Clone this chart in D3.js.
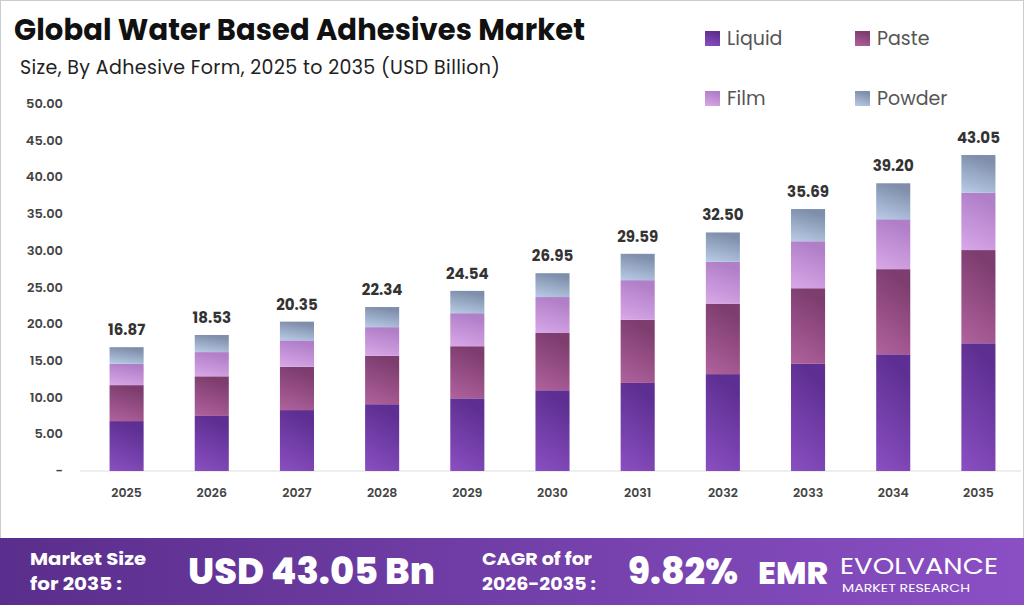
<!DOCTYPE html>
<html><head><meta charset="utf-8">
<script src="https://cdn.jsdelivr.net/npm/d3@7"></script>
<style>body{margin:0;background:#fff;font-family:Poppins,"Open Sans",sans-serif}</style>
</head><body><svg id="c" width="1024" height="605"></svg>
<script>
var years = ["2025","2026","2027","2028","2029","2030","2031","2032","2033","2034","2035"];
var liquid = [6.8,7.5,8.3,9.1,9.9,11.0,12.0,13.2,14.6,15.9,17.4];
var paste  = [4.9,5.4,5.9,6.6,7.1,7.8,8.6,9.6,10.3,11.6,12.7];
var film   = [2.9,3.3,3.6,3.9,4.5,4.9,5.4,5.7,6.4,6.8,7.8];
var totals = [16.87,18.53,20.35,22.34,24.54,26.95,29.59,32.50,35.69,39.20,43.05];
var powder = totals.map(function (t, i) { return +(t - liquid[i] - paste[i] - film[i]).toFixed(2); });
var yTicks = [0,5,10,15,20,25,30,35,40,45,50];
var keys = ["Liquid","Paste","Film","Powder"];
var cols = [["#8a4fc2","#5e2f92"],["#b0629d","#7e3d6f"],["#d9a8e8","#b07fc8"],["#b9cbe6","#7f8fab"]];

var svg = d3.select("#c");
var defs = svg.append("defs");
cols.forEach(function (c, i) {
  var g = defs.append("linearGradient").attr("id","g"+i).attr("x1",0).attr("y1",1).attr("x2",0.3).attr("y2",0);
  g.append("stop").attr("offset","0%").attr("stop-color",c[0]);
  g.append("stop").attr("offset","100%").attr("stop-color",c[1]);
});
var fg = defs.append("linearGradient").attr("id","foot");
fg.append("stop").attr("offset","0%").attr("stop-color","#5a2e8c");
fg.append("stop").attr("offset","100%").attr("stop-color","#8a4fc4");

svg.append("rect").attr("x",0.5).attr("y",0.5).attr("width",1023).attr("height",604)
  .attr("fill","none").attr("stroke","#ccc");

var x = d3.scaleBand().domain(years).range([84,1021]).paddingInner(0.6).paddingOuter(0.3);
var y = d3.scaleLinear().domain([0,50]).range([471,104]);

svg.append("g").selectAll("text").data(yTicks).join("text")
  .attr("x",63).attr("y",function (d) { return y(d) + 4; }).attr("text-anchor","end")
  .attr("font-size",13).attr("font-weight",600).attr("fill","#444")
  .text(function (d) { return d === 0 ? "-" : d.toFixed(2); });
svg.append("line").attr("x1",80).attr("x2",1021).attr("y1",471).attr("y2",471).attr("stroke","#ddd");

var data = years.map(function (yr, i) { return {year: yr, Liquid: liquid[i], Paste: paste[i], Film: film[i], Powder: powder[i]}; });
var stack = d3.stack().keys(keys)(data);
svg.append("g").selectAll("g").data(stack).join("g").attr("fill", function (d, i) { return "url(#g" + i + ")"; })
  .selectAll("rect").data(function (d) { return d; }).join("rect")
  .attr("x", function (d) { return x(d.data.year); }).attr("width", x.bandwidth())
  .attr("y", function (d) { return y(d[1]); }).attr("height", function (d) { return y(d[0]) - y(d[1]); });

svg.append("g").selectAll("text").data(totals).join("text")
  .attr("x", function (d, i) { return x(years[i]) + x.bandwidth() / 2; })
  .attr("y", function (d) { return y(d) - 12; }).attr("text-anchor","middle")
  .attr("font-size",15).attr("font-weight",700).attr("fill","#333")
  .text(function (d) { return d.toFixed(2); });

svg.append("g").selectAll("text").data(years).join("text")
  .attr("x", function (d) { return x(d) + x.bandwidth() / 2; }).attr("y",497).attr("text-anchor","middle")
  .attr("font-size",12.5).attr("font-weight",600).attr("fill","#444").text(function (d) { return d; });

svg.append("text").attr("x",14).attr("y",40).attr("font-size",29).attr("font-weight",700).attr("fill","#111")
  .attr("textLength",571).text("Global Water Based Adhesives Market");
svg.append("text").attr("x",20).attr("y",74).attr("font-size",19).attr("fill","#222")
  .attr("textLength",480).text("Size, By Adhesive Form, 2025 to 2035 (USD Billion)");

var leg = [[705,38],[855,38],[705,98],[855,98]];
keys.forEach(function (k, i) {
  svg.append("rect").attr("x",leg[i][0]).attr("y",leg[i][1]-7).attr("width",15).attr("height",15).attr("fill","url(#g"+i+")");
  svg.append("text").attr("x",leg[i][0]+22).attr("y",leg[i][1]+7).attr("font-size",19).attr("fill","#555").text(k);
});

svg.append("rect").attr("x",0).attr("y",538).attr("width",1024).attr("height",67).attr("fill","url(#foot)");
function ft(x0, y0, s, w, t, len) {
  var e = svg.append("text").attr("x",x0).attr("y",y0).attr("font-size",s).attr("font-weight",w)
    .attr("fill","#fff").text(t);
  if (len) e.attr("textLength",len).attr("lengthAdjust","spacingAndGlyphs");
}
ft(30,565,18,700,"Market Size",116); ft(30,590,18,700,"for 2035 :",92);
ft(188,584,36,800,"USD 43.05 Bn",247);
ft(482,565,18,700,"CAGR of for",110); ft(482,590,18,700,"2026-2035 :",114);
ft(628,584,36,800,"9.82%",110);
ft(758,584,32,800,"EMR",70);
ft(840,574,23,400,"EVOLVANCE",158); ft(842,592,11,400,"MARKET RESEARCH",128);
</script></body></html>
